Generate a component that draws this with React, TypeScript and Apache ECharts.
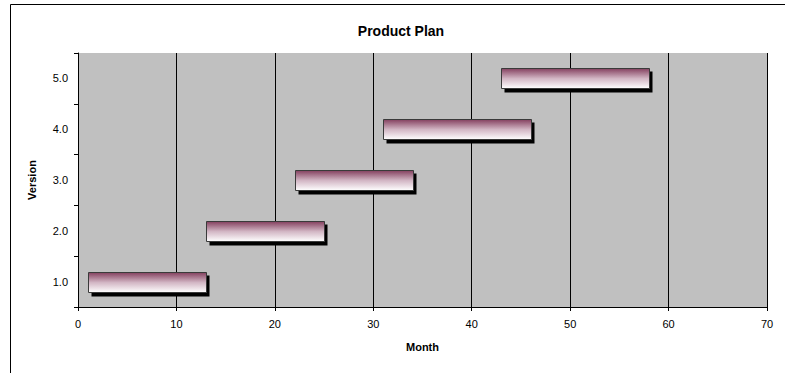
import React, { useEffect, useRef } from "react";
import * as echarts from "echarts";

const versions = ["1.0", "2.0", "3.0", "4.0", "5.0"];
const startMonths = [1, 13, 22, 31, 43];
const endMonths = [13, 25, 34, 46, 58];
const xTicks = { min: 0, max: 70, interval: 10 };

const FONT = "'Liberation Sans', Arial, sans-serif";

export default function App() {
  const ref = useRef<HTMLDivElement>(null);
  useEffect(() => {
    if (!ref.current) return;
    const chart = echarts.init(ref.current, undefined, { renderer: "svg" });
    const data = versions.map((v, i) => [i, startMonths[i], endMonths[i]]);
    chart.setOption({
      animation: false,
      backgroundColor: "#ffffff",
      textStyle: { fontFamily: FONT },
      graphic: [
        {
          type: "rect",
          shape: { x: 10.5, y: 4.5, width: 900, height: 500 },
          style: { fill: "none", stroke: "#000", lineWidth: 1 },
          z: 100,
        },
        {
          type: "text",
          x: 401,
          y: 31,
          style: {
            text: "Product Plan",
            fontSize: 14,
            fontWeight: "bold",
            fontFamily: FONT,
            fill: "#000",
            align: "center",
            verticalAlign: "middle",
          },
          z: 100,
        },
      ],
      grid: {
        left: 78,
        top: 53,
        right: 18,
        bottom: 66,
        show: true,
        backgroundColor: "#c0c0c0",
        borderWidth: 0,
      },
      xAxis: {
        type: "value",
        min: xTicks.min,
        max: xTicks.max,
        interval: xTicks.interval,
        name: "Month",
        nameLocation: "middle",
        nameGap: 34,
        nameTextStyle: { fontSize: 11, fontWeight: "bold", color: "#000", fontFamily: FONT },
        axisLine: { show: true, lineStyle: { color: "#000", width: 1 } },
        axisTick: { show: true, length: 4, lineStyle: { color: "#000" } },
        axisLabel: { fontSize: 11, color: "#000", margin: 11, fontFamily: FONT },
        splitLine: { show: true, lineStyle: { color: "#000", width: 1 } },
      },
      yAxis: {
        type: "category",
        data: versions,
        boundaryGap: true,
        name: "Version",
        nameLocation: "middle",
        nameGap: 41,
        nameRotate: 90,
        nameTextStyle: { fontSize: 11, fontWeight: "bold", color: "#000", fontFamily: FONT },
        axisLine: { show: true, lineStyle: { color: "#000", width: 1 } },
        axisTick: { show: true, length: 4, alignWithLabel: false, lineStyle: { color: "#000" } },
        axisLabel: { fontSize: 11, color: "#000", margin: 10, fontFamily: FONT },
        splitLine: { show: false },
      },
      series: [
        {
          type: "custom",
          encode: { x: [1, 2], y: 0 },
          data,
          renderItem: (params: any, api: any) => {
            const cat = api.value(0);
            const s = api.coord([api.value(1), cat]);
            const e = api.coord([api.value(2), cat]);
            const h = 20;
            const x = Math.round(s[0]) + 0.5;
            const y = Math.round(s[1] - h / 2) + 0.5;
            const w = Math.round(e[0] - s[0]);
            return {
              type: "group",
              children: [
                {
                  type: "rect",
                  shape: { x: x + 3, y: y + 3, width: w, height: h + 1 },
                  style: { fill: "#000" },
                },
                {
                  type: "rect",
                  shape: { x, y, width: w, height: h },
                  style: {
                    fill: new echarts.graphic.LinearGradient(0, 0, 0, 1, [
                      { offset: 0, color: "#84405f" },
                      { offset: 0.5, color: "#d2b6c4" },
                      { offset: 1, color: "#ffffff" },
                    ]),
                    stroke: "#3a3a3a",
                    lineWidth: 1,
                  },
                },
              ],
            };
          },
        },
      ],
    });
    return () => chart.dispose();
  }, []);
  return (
    <div
      ref={ref}
      style={{ position: "fixed", left: 0, top: 0, width: 785, height: 373 }}
    />
  );
}
